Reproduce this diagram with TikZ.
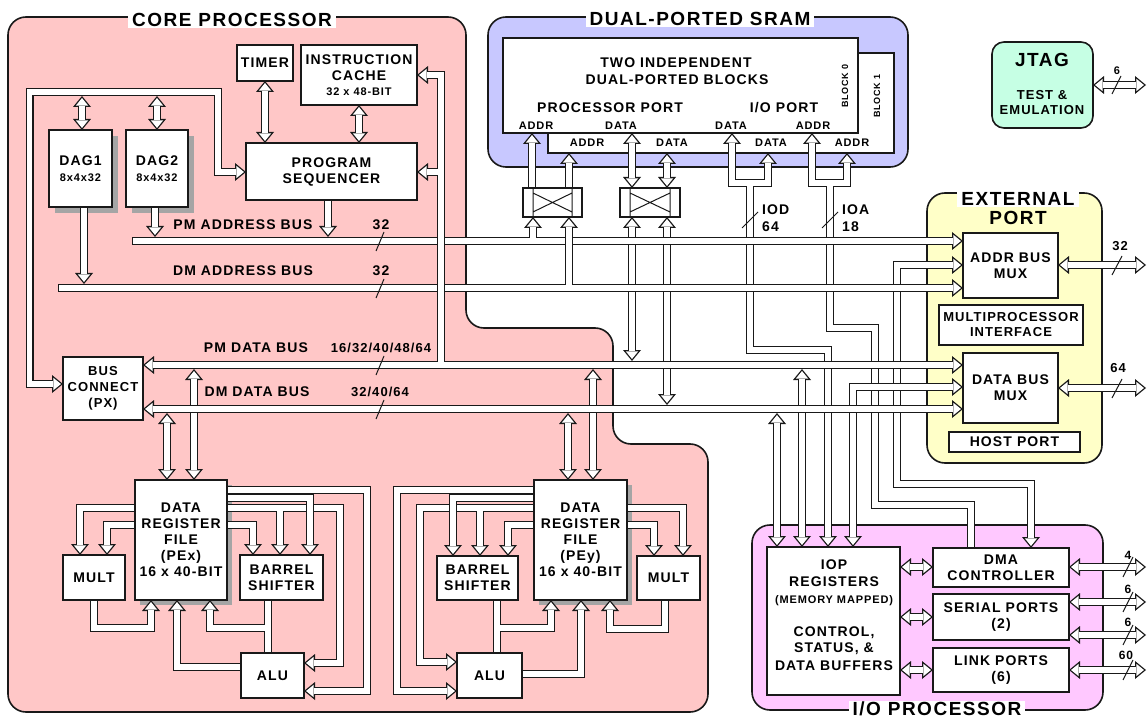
\documentclass[tikz,border=0pt]{standalone}
\usepackage{fontspec}
\setmainfont{Liberation Sans}[LetterSpace=8]
\usetikzlibrary{arrows.meta}
\definecolor{corepink}{RGB}{255,199,199}
\definecolor{srambl}{RGB}{200,200,255}
\definecolor{extyel}{RGB}{255,255,200}
\definecolor{iopmag}{RGB}{255,200,255}
\definecolor{jtagg}{RGB}{198,255,228}
\definecolor{shad}{RGB}{165,165,165}
\definecolor{edge}{RGB}{25,25,25}
\newcommand\fsz[2]{\fontsize{#1}{#2}\selectfont}
\newcommand\BUS[3]{%
  \if a#1\def\tA{Ob}\def\uA{Ib}\else\def\tA{}\def\uA{}\fi
  \if a#2\def\tB{Ob}\def\uB{Ib}\else\def\tB{}\def\uB{}\fi
  \edef\busdo{\noexpand\draw[bo,oS#1,oE#2,arrows={\tA-\tB}]}\busdo #3;%
  \edef\busdo{\noexpand\draw[bi,iS#1,iE#2,arrows={\uA-\uB}]}\busdo #3;%
}
\newcommand\rbox[7][]{%
  \pgfmathsetmacro\rbcx{(#3+#5)/2}\pgfmathsetmacro\rbcy{(#4+#6)/2}%
  \pgfmathsetmacro\rbw{#5-#3}\pgfmathsetmacro\rbh{#6-#4}%
  \node[box,minimum width=\rbw pt,minimum height=\rbh pt,#1] (#2) at (\rbcx,\rbcy) {#7};%
}
\tikzset{
  Ob/.tip={Triangle[length=11pt,width=18pt,line width=0pt 0 0]},
  Ib/.tip={Triangle[length=7.65pt,width=12.5pt,line width=0pt 0 0]},
  bo/.style={draw=edge,line width=8pt,line join=miter,line cap=butt},
  bi/.style={draw=white,line width=5.4pt,line join=miter,line cap=butt},
  oSa/.style={},oSc/.style={},oSo/.style={},oSj/.style={shorten <=4pt},
  oEa/.style={},oEc/.style={},oEo/.style={},oEj/.style={shorten >=4pt},
  iSa/.style={shorten <=2.05pt},iSc/.style={shorten <=1.3pt},iSo/.style={},iSj/.style={},
  iEa/.style={shorten >=2.05pt},iEc/.style={shorten >=1.3pt},iEo/.style={},iEj/.style={},
  box/.style={draw=edge,line width=1.2pt,fill=white,inner sep=0pt,align=center,font=\bfseries\fsz{14}{16}},
  region/.style={draw=edge,line width=1.6pt,rounded corners=18pt},
  ttl/.style={fill=white,inner xsep=4pt,inner ysep=1pt,font=\bfseries\fsz{19}{21}},
  tx/.style={inner sep=0pt,align=center,font=\bfseries\fsz{14}{16}},
  sm/.style={inner sep=0pt,align=center,font=\bfseries\fsz{11}{13}},
  slash/.style={draw=edge,line width=1pt},
}
\begin{document}
\begin{tikzpicture}[x=1pt,y=-1pt]
\useasboundingbox (0,0) rectangle (1148,719);
\fill[white] (0,0) rectangle (1148,719);
% ---------- regions
\filldraw[region,fill=corepink] (8,17) -- (466,17) -- (466,328) -- (613,328) -- (613,444) -- (708,444) -- (708,712) -- (8,712) -- cycle;
\filldraw[region,fill=srambl] (488,17) rectangle (908,167);
\filldraw[region,fill=extyel] (927,193) rectangle (1102,463);
\filldraw[region,fill=iopmag] (752,525) rectangle (1103,710);
\node[draw=edge,line width=1.6pt,fill=jtagg,rounded corners=12pt,minimum width=101pt,minimum height=86pt] (jtag) at (1042.5,85) {};
\node[tx,font=\bfseries\fsz{19}{21}] (jtagT) at (1042,60) {JTAG};
\node[tx,font=\bfseries\fsz{13}{15}] (jtagT2) at (1042,103) {TEST \&\\EMULATION};
% ---------- titles
\node[ttl] (coreT) at (232,20) {CORE PROCESSOR};
\node[ttl] (sramT) at (700,19) {DUAL-PORTED SRAM};
\node[ttl] (extT) at (1018,199) {EXTERNAL};
\node[tx,font=\bfseries\fsz{19}{21}] (extT2) at (1018,218) {PORT};
\node[ttl,inner ysep=0.5pt] (iopT) at (937,709) {I/O PROCESSOR};
% ---------- SRAM blocks
\rbox{blk1}{548}{53}{894}{153}{}
\rbox{blk0}{503}{38}{858}{133}{}
\node[tx] (s1) at (676,63) {TWO INDEPENDENT};
\node[tx] (s2) at (677,80) {DUAL-PORTED BLOCKS};
\node[tx] (s3) at (610,108) {PROCESSOR PORT};
\node[tx] (s4) at (784,108) {I/O PORT};
\node[sm] (p1) at (536,126) {ADDR};
\node[sm] (p2) at (621,126) {DATA};
\node[sm] (p3) at (731,126) {DATA};
\node[sm] (p4) at (813,126) {ADDR};
\node[sm] (q1) at (587,143) {ADDR};
\node[sm] (q2) at (672,143) {DATA};
\node[sm] (q3) at (771,143) {DATA};
\node[sm] (q4) at (852,143) {ADDR};
\node[sm,rotate=90,font=\bfseries\fsz{9}{11}] (b0) at (845,86) {BLOCK 0};
\node[sm,rotate=90,font=\bfseries\fsz{9}{11}] (b1) at (877,96) {BLOCK 1};
% ---------- shadows
\fill[shad] (55,136) rectangle (118,213);
\fill[shad] (132,136) rectangle (194,213);
\fill[shad] (140,485) rectangle (232,605);
\fill[shad] (539,485) rectangle (632,605);
% ---------- core top buses
\BUS{a}{a}{(63,384) -- (29.5,384) -- (29.5,92) -- (218,92) -- (218,172) -- (246,172)}
\BUS{a}{a}{(82,96) -- (82,130)}
\BUS{a}{a}{(157,96) -- (157,130)}
\BUS{a}{a}{(265,81) -- (265,143)}
\BUS{a}{a}{(359,105) -- (359,143)}
\BUS{o}{a}{(84,207) -- (84,284)}
\BUS{o}{a}{(155,207) -- (155,237)}
\BUS{o}{a}{(328,200) -- (328,237)}
% ---------- SRAM port buses
\BUS{o}{a}{(532,188) -- (532,133)}
\BUS{o}{a}{(569,188) -- (569,153)}
\BUS{a}{a}{(632,188) -- (632,133)}
\BUS{a}{a}{(667,188) -- (667,153)}
\BUS{a}{a}{(732,133) -- (732,183) -- (768,183) -- (768,153)}
\BUS{j}{a}{(750,183) -- (750,350) -- (828,350) -- (828,547)}
\BUS{a}{a}{(812,133) -- (812,183) -- (847,183) -- (847,153)}
\BUS{j}{o}{(830,183) -- (830,328) -- (875,328) -- (875,505) -- (971,505) -- (971,548)}
\BUS{a}{a}{(963,265) -- (897,265) -- (897,484) -- (1031,484) -- (1031,548)}
\BUS{a}{a}{(963,387) -- (853,387) -- (853,547)}
\BUS{a}{a}{(802,369) -- (802,547)}
\BUS{a}{a}{(777,413) -- (777,547)}
\BUS{a}{a}{(194,369) -- (194,480)}
\BUS{a}{a}{(167,413) -- (167,480)}
\BUS{a}{a}{(593,369) -- (593,480)}
\BUS{a}{a}{(568,413) -- (568,480)}
\BUS{a}{a}{(632,217) -- (632,361)}
\BUS{a}{a}{(667,217) -- (667,405)}
% ---------- main horizontal buses
\BUS{c}{a}{(132,241) -- (963,241)}
\BUS{c}{a}{(58,288) -- (963,288)}
\BUS{a}{a}{(143,365) -- (963,365)}
\BUS{a}{a}{(143,409) -- (963,409)}
% ---------- branches from buses
\BUS{j}{a}{(441,365) -- (441,75) -- (417,75)}
\BUS{j}{a}{(441,172) -- (417,172)}
\BUS{j}{a}{(533,241) -- (533,217)}
\BUS{j}{a}{(569,288) -- (569,217)}
% ---------- PEx
\BUS{o}{a}{(135,508) -- (80,508) -- (80,555)}
\BUS{o}{a}{(135,525) -- (107,525) -- (107,555)}
\BUS{o}{a}{(227,490) -- (367,490) -- (367,691) -- (304,691)}
\BUS{o}{a}{(227,508) -- (340,508) -- (340,663) -- (304,663)}
\BUS{j}{a}{(280,508) -- (280,555)}
\BUS{o}{a}{(227,498) -- (310,498) -- (310,555)}
\BUS{o}{a}{(227,525) -- (253,525) -- (253,555)}
\BUS{o}{a}{(94,600) -- (94,628) -- (151,628) -- (151,600)}
\BUS{o}{a}{(241,667) -- (177,667) -- (177,600)}
\BUS{o}{o}{(268,600) -- (268,653)}
\BUS{j}{a}{(268,628) -- (210,628) -- (210,600)}
% ---------- PEy
\BUS{o}{a}{(534,490) -- (397,490) -- (397,691) -- (457,691)}
\BUS{o}{a}{(534,508) -- (420,508) -- (420,662) -- (457,662)}
\BUS{j}{a}{(480,508) -- (480,556)}
\BUS{o}{a}{(534,498) -- (453,498) -- (453,556)}
\BUS{o}{a}{(534,525) -- (508,525) -- (508,556)}
\BUS{o}{a}{(627,508) -- (683,508) -- (683,556)}
\BUS{o}{a}{(627,525) -- (654,525) -- (654,556)}
\BUS{o}{o}{(497,600) -- (497,653)}
\BUS{j}{a}{(497,628) -- (551,628) -- (551,600)}
\BUS{o}{a}{(522,674) -- (581,674) -- (581,600)}
\BUS{o}{a}{(665,600) -- (665,629) -- (610,629) -- (610,600)}
% ---------- IOP and external arrows
\BUS{a}{a}{(900,567) -- (933,567)}
\BUS{a}{a}{(900,617) -- (933,617)}
\BUS{a}{a}{(900,670) -- (933,670)}
\BUS{a}{a}{(1069,567) -- (1146,567)}
\BUS{a}{a}{(1069,602) -- (1146,602)}
\BUS{a}{a}{(1069,635) -- (1146,635)}
\BUS{a}{a}{(1069,670) -- (1146,670)}
\BUS{a}{a}{(1058,265) -- (1146,265)}
\BUS{a}{a}{(1058,388) -- (1146,388)}
\BUS{a}{a}{(1093,85) -- (1146,85)}
% ---------- boxes
\rbox{timer}{237}{45}{293}{81}{TIMER}
\rbox{icache}{301}{45}{417}{105}{INSTRUCTION\\CACHE\\[-1pt]{\fsz{11}{13}32 x 48-BIT}}
\rbox{seq}{246}{143}{417}{200}{PROGRAM\\SEQUENCER}
\rbox{dag1}{49}{130}{112}{207}{DAG1\\{\fsz{11}{13}8x4x32}}
\rbox{dag2}{126}{130}{188}{207}{DAG2\\{\fsz{11}{13}8x4x32}}
\rbox[font=\bfseries\fsz{13}{16}]{bc}{63}{357}{143}{420}{BUS\\CONNECT\\(PX)}
\rbox{drfx}{135}{480}{227}{600}{DATA\\REGISTER\\FILE\\(PEx)\\16 x 40-BIT}
\rbox{multx}{63}{555}{125}{600}{MULT}
\rbox{bsx}{240}{555}{323}{600}{BARREL\\SHIFTER}
\rbox{alux}{241}{653}{304}{698}{ALU}
\rbox{drfy}{534}{480}{627}{600}{DATA\\REGISTER\\FILE\\(PEy)\\16 x 40-BIT}
\rbox{bsy}{437}{556}{518}{600}{BARREL\\SHIFTER}
\rbox{multy}{637}{556}{700}{600}{MULT}
\rbox{aluy}{457}{653}{522}{698}{ALU}
\rbox{xb1}{523}{188}{582}{217}{}
\rbox{xb2}{620}{188}{680}{217}{}
\draw[edge,line width=1pt] (533,188) -- (533,217) (572,188) -- (572,217) (533,193) -- (572,212) (533,212) -- (572,193);
\draw[edge,line width=1pt] (630,188) -- (630,217) (670,188) -- (670,217) (630,193) -- (670,212) (630,212) -- (670,193);
\rbox{amux}{963}{233}{1058}{298}{ADDR BUS\\MUX}
\rbox[font=\bfseries\fsz{13}{15}]{mpi}{939}{305}{1083}{345}{MULTIPROCESSOR\\INTERFACE}
\rbox{dmux}{963}{353}{1058}{423}{DATA BUS\\MUX}
\rbox{host}{949}{432}{1080}{452}{HOST PORT}
\rbox{iopr}{767}{547}{900}{695}{}
\node[tx] (i1) at (834,565) {IOP};
\node[tx] (i2) at (834,582) {REGISTERS};
\node[sm] (i3) at (834,601) {(MEMORY MAPPED)};
\node[tx] (i4) at (834,633) {CONTROL,};
\node[tx] (i5) at (834,649) {STATUS, \&};
\node[tx] (i6) at (834,666) {DATA BUFFERS};
\rbox{dma}{933}{548}{1069}{587}{DMA\\CONTROLLER}
\rbox{ser}{933}{594}{1069}{640}{SERIAL PORTS\\(2)}
\rbox{lnk}{933}{648}{1069}{692}{LINK PORTS\\(6)}
% ---------- bus labels
\node[tx] (l1) at (243,225) {PM ADDRESS BUS};
\node[tx] (l1n) at (381,225) {32};
\node[tx] (l2) at (243,271) {DM ADDRESS BUS};
\node[tx] (l2n) at (381,271) {32};
\node[tx] (l3) at (256,348) {PM DATA BUS};
\node[tx,font=\bfseries\fsz{13}{15}] (l3n) at (381,348) {16/32/40/48/64};
\node[tx] (l4) at (257,392) {DM DATA BUS};
\node[tx,font=\bfseries\fsz{13}{15}] (l4n) at (380,392) {32/40/64};
\node[tx,anchor=west] (iod1) at (762,210) {IOD};
\node[tx,anchor=west] (iod2) at (762,227) {64};
\node[tx,anchor=west] (ioa1) at (842,210) {IOA};
\node[tx,anchor=west] (ioa2) at (842,227) {18};
\node[sm,font=\bfseries\fsz{13}{15}] (e1) at (1120,246) {32};
\node[sm,font=\bfseries\fsz{13}{15}] (e2) at (1118,368) {64};
\node[sm] (e3) at (1117,71) {6};
\node[sm,font=\bfseries\fsz{12}{14}] (e4) at (1128,555) {4};
\node[sm,font=\bfseries\fsz{12}{14}] (e5) at (1128,589) {6};
\node[sm,font=\bfseries\fsz{12}{14}] (e6) at (1128,622) {6};
\node[sm,font=\bfseries\fsz{12}{14}] (e7) at (1126,655) {60};
% ---------- slashes
\draw[slash] (376,251) -- (384,232);
\draw[slash] (376,298) -- (384,279);
\draw[slash] (376,375) -- (384,356);
\draw[slash] (376,419) -- (384,400);
\draw[slash] (742,228) -- (758,212);
\draw[slash] (822,228) -- (838,212);
\draw[slash] (1112,275) -- (1122,256);
\draw[slash] (1112,398) -- (1122,379);
\draw[slash] (1112,94) -- (1121,76);
\draw[slash] (1123,577) -- (1133,557);
\draw[slash] (1123,612) -- (1133,592);
\draw[slash] (1123,645) -- (1133,625);
\draw[slash] (1123,680) -- (1133,660);
\end{tikzpicture}
\end{document}
